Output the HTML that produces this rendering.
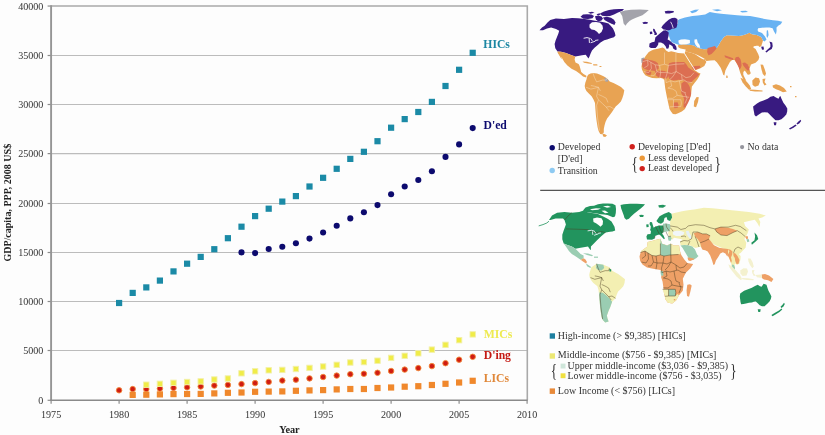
<!DOCTYPE html>
<html><head><meta charset="utf-8"><style>
html,body{margin:0;padding:0;background:#fdfdfd;width:825px;height:435px;overflow:hidden}
svg{display:block}
text{font-family:"Liberation Serif","Times New Roman",serif}
.ax{font-size:10.8px;fill:#333}
.axt{font-size:11px;font-weight:bold;fill:#222}
.axt2{font-size:10px;font-weight:bold;fill:#222}
.lab{font-size:12.5px;font-weight:bold}
.lt{font-size:10.5px;fill:#333}
.br{font-size:19px;fill:#333}
</style></head><body>
<svg width="825" height="435" viewBox="0 0 825 435">
<rect width="825" height="435" fill="#fdfdfd"/>
<line x1="51" y1="350.5" x2="527.3" y2="350.5" stroke="#bcbcbc" stroke-width="1.15"/>
<line x1="51" y1="301.5" x2="527.3" y2="301.5" stroke="#bcbcbc" stroke-width="1.15"/>
<line x1="51" y1="252.5" x2="527.3" y2="252.5" stroke="#bcbcbc" stroke-width="1.15"/>
<line x1="51" y1="203.5" x2="527.3" y2="203.5" stroke="#bcbcbc" stroke-width="1.15"/>
<line x1="51" y1="153.6" x2="527.3" y2="153.6" stroke="#bcbcbc" stroke-width="1.15"/>
<line x1="51" y1="104.5" x2="527.3" y2="104.5" stroke="#bcbcbc" stroke-width="1.15"/>
<line x1="51" y1="55.5" x2="527.3" y2="55.5" stroke="#bcbcbc" stroke-width="1.15"/>
<polyline points="51,6.04 527.3,6.04 527.3,400.3" fill="none" stroke="#a9a9a9" stroke-width="1.6"/>
<line x1="47.6" y1="400.3" x2="51" y2="400.3" stroke="#8c8c8c" stroke-width="1.2"/>
<line x1="47.6" y1="350.5" x2="51" y2="350.5" stroke="#8c8c8c" stroke-width="1.2"/>
<line x1="47.6" y1="301.5" x2="51" y2="301.5" stroke="#8c8c8c" stroke-width="1.2"/>
<line x1="47.6" y1="252.5" x2="51" y2="252.5" stroke="#8c8c8c" stroke-width="1.2"/>
<line x1="47.6" y1="203.5" x2="51" y2="203.5" stroke="#8c8c8c" stroke-width="1.2"/>
<line x1="47.6" y1="153.6" x2="51" y2="153.6" stroke="#8c8c8c" stroke-width="1.2"/>
<line x1="47.6" y1="104.5" x2="51" y2="104.5" stroke="#8c8c8c" stroke-width="1.2"/>
<line x1="47.6" y1="55.5" x2="51" y2="55.5" stroke="#8c8c8c" stroke-width="1.2"/>
<line x1="47.6" y1="6.04" x2="51" y2="6.04" stroke="#8c8c8c" stroke-width="1.2"/>
<line x1="51.1" y1="400" x2="51.1" y2="403.8" stroke="#8c8c8c" stroke-width="1.2"/>
<line x1="119.1" y1="400" x2="119.1" y2="403.8" stroke="#8c8c8c" stroke-width="1.2"/>
<line x1="187.1" y1="400" x2="187.1" y2="403.8" stroke="#8c8c8c" stroke-width="1.2"/>
<line x1="255.1" y1="400" x2="255.1" y2="403.8" stroke="#8c8c8c" stroke-width="1.2"/>
<line x1="323.1" y1="400" x2="323.1" y2="403.8" stroke="#8c8c8c" stroke-width="1.2"/>
<line x1="391.1" y1="400" x2="391.1" y2="403.8" stroke="#8c8c8c" stroke-width="1.2"/>
<line x1="459.1" y1="400" x2="459.1" y2="403.8" stroke="#8c8c8c" stroke-width="1.2"/>
<line x1="527.1" y1="400" x2="527.1" y2="403.8" stroke="#8c8c8c" stroke-width="1.2"/>
<line x1="51.1" y1="5.2" x2="51.1" y2="401" stroke="#959595" stroke-width="1.9"/>
<line x1="50.2" y1="400.3" x2="527.5" y2="400.3" stroke="#8a8a8a" stroke-width="1.6"/>
<text transform="translate(43.4,404) scale(0.935,1)" class="ax" text-anchor="end">0</text>
<text transform="translate(43.4,354.2) scale(0.935,1)" class="ax" text-anchor="end">5000</text>
<text transform="translate(43.4,305.2) scale(0.935,1)" class="ax" text-anchor="end">10000</text>
<text transform="translate(43.4,256.2) scale(0.935,1)" class="ax" text-anchor="end">15000</text>
<text transform="translate(43.4,207.2) scale(0.935,1)" class="ax" text-anchor="end">20000</text>
<text transform="translate(43.4,157.3) scale(0.935,1)" class="ax" text-anchor="end">25000</text>
<text transform="translate(43.4,108.2) scale(0.935,1)" class="ax" text-anchor="end">30000</text>
<text transform="translate(43.4,59.2) scale(0.935,1)" class="ax" text-anchor="end">35000</text>
<text transform="translate(43.4,9.74) scale(0.935,1)" class="ax" text-anchor="end">40000</text>
<text transform="translate(51.1,418.4) scale(0.935,1)" class="ax" text-anchor="middle">1975</text>
<text transform="translate(119.1,418.4) scale(0.935,1)" class="ax" text-anchor="middle">1980</text>
<text transform="translate(187.1,418.4) scale(0.935,1)" class="ax" text-anchor="middle">1985</text>
<text transform="translate(255.1,418.4) scale(0.935,1)" class="ax" text-anchor="middle">1990</text>
<text transform="translate(323.1,418.4) scale(0.935,1)" class="ax" text-anchor="middle">1995</text>
<text transform="translate(391.1,418.4) scale(0.935,1)" class="ax" text-anchor="middle">2000</text>
<text transform="translate(459.1,418.4) scale(0.935,1)" class="ax" text-anchor="middle">2005</text>
<text transform="translate(527.1,418.4) scale(0.935,1)" class="ax" text-anchor="middle">2010</text>
<text transform="translate(289.4,432.8) scale(0.935,1)" class="axt" text-anchor="middle">Year</text>
<text transform="translate(10.6,202.7) rotate(-90)" text-anchor="middle" class="axt2">GDP/capita, PPP, 2008 US$</text>
<rect x="116" y="299.9" width="6.2" height="6.2" fill="#1b8aa6"/>
<rect x="129.6" y="289.8" width="6.2" height="6.2" fill="#1b8aa6"/>
<rect x="143.2" y="284.3" width="6.2" height="6.2" fill="#1b8aa6"/>
<rect x="156.8" y="277.5" width="6.2" height="6.2" fill="#1b8aa6"/>
<rect x="170.4" y="268.3" width="6.2" height="6.2" fill="#1b8aa6"/>
<rect x="184" y="260.6" width="6.2" height="6.2" fill="#1b8aa6"/>
<rect x="197.6" y="253.8" width="6.2" height="6.2" fill="#1b8aa6"/>
<rect x="211.2" y="246.1" width="6.2" height="6.2" fill="#1b8aa6"/>
<rect x="224.8" y="235.1" width="6.2" height="6.2" fill="#1b8aa6"/>
<rect x="238.4" y="223.6" width="6.2" height="6.2" fill="#1b8aa6"/>
<rect x="252" y="213" width="6.2" height="6.2" fill="#1b8aa6"/>
<rect x="265.6" y="205.6" width="6.2" height="6.2" fill="#1b8aa6"/>
<rect x="279.2" y="198.5" width="6.2" height="6.2" fill="#1b8aa6"/>
<rect x="292.8" y="193" width="6.2" height="6.2" fill="#1b8aa6"/>
<rect x="306.4" y="183.4" width="6.2" height="6.2" fill="#1b8aa6"/>
<rect x="320" y="174.7" width="6.2" height="6.2" fill="#1b8aa6"/>
<rect x="333.6" y="165.7" width="6.2" height="6.2" fill="#1b8aa6"/>
<rect x="347.2" y="155.8" width="6.2" height="6.2" fill="#1b8aa6"/>
<rect x="360.8" y="148.7" width="6.2" height="6.2" fill="#1b8aa6"/>
<rect x="374.4" y="138.1" width="6.2" height="6.2" fill="#1b8aa6"/>
<rect x="388" y="124.6" width="6.2" height="6.2" fill="#1b8aa6"/>
<rect x="401.6" y="116" width="6.2" height="6.2" fill="#1b8aa6"/>
<rect x="415.2" y="108.9" width="6.2" height="6.2" fill="#1b8aa6"/>
<rect x="428.8" y="98.8" width="6.2" height="6.2" fill="#1b8aa6"/>
<rect x="442.4" y="82.9" width="6.2" height="6.2" fill="#1b8aa6"/>
<rect x="456" y="66.7" width="6.2" height="6.2" fill="#1b8aa6"/>
<rect x="469.6" y="49.7" width="6.2" height="6.2" fill="#1b8aa6"/>
<circle cx="241.5" cy="252.4" r="3.05" fill="#0c0a6e"/>
<circle cx="255.1" cy="253.1" r="3.05" fill="#0c0a6e"/>
<circle cx="268.7" cy="249" r="3.05" fill="#0c0a6e"/>
<circle cx="282.3" cy="246.7" r="3.05" fill="#0c0a6e"/>
<circle cx="295.9" cy="243.2" r="3.05" fill="#0c0a6e"/>
<circle cx="309.5" cy="238.6" r="3.05" fill="#0c0a6e"/>
<circle cx="323.1" cy="232.5" r="3.05" fill="#0c0a6e"/>
<circle cx="336.7" cy="225.8" r="3.05" fill="#0c0a6e"/>
<circle cx="350.3" cy="218.4" r="3.05" fill="#0c0a6e"/>
<circle cx="363.9" cy="212.3" r="3.05" fill="#0c0a6e"/>
<circle cx="377.5" cy="205.1" r="3.05" fill="#0c0a6e"/>
<circle cx="391.1" cy="194.2" r="3.05" fill="#0c0a6e"/>
<circle cx="404.7" cy="186.5" r="3.05" fill="#0c0a6e"/>
<circle cx="418.3" cy="180" r="3.05" fill="#0c0a6e"/>
<circle cx="431.9" cy="171.2" r="3.05" fill="#0c0a6e"/>
<circle cx="445.5" cy="156.9" r="3.05" fill="#0c0a6e"/>
<circle cx="459.1" cy="144.4" r="3.05" fill="#0c0a6e"/>
<circle cx="472.7" cy="128.1" r="3.05" fill="#0c0a6e"/>
<circle cx="119.1" cy="390.3" r="2.75" fill="#d01c12" stroke="#f28a3a" stroke-width="0.9"/>
<circle cx="132.7" cy="389.1" r="2.75" fill="#d01c12" stroke="#f28a3a" stroke-width="0.9"/>
<circle cx="146.3" cy="389.1" r="2.75" fill="#d01c12" stroke="#f28a3a" stroke-width="0.9"/>
<circle cx="159.9" cy="388.6" r="2.75" fill="#d01c12" stroke="#f28a3a" stroke-width="0.9"/>
<circle cx="173.5" cy="387.9" r="2.75" fill="#d01c12" stroke="#f28a3a" stroke-width="0.9"/>
<circle cx="187.1" cy="387.3" r="2.75" fill="#d01c12" stroke="#f28a3a" stroke-width="0.9"/>
<circle cx="200.7" cy="386.5" r="2.75" fill="#d01c12" stroke="#f28a3a" stroke-width="0.9"/>
<circle cx="214.3" cy="385.6" r="2.75" fill="#d01c12" stroke="#f28a3a" stroke-width="0.9"/>
<circle cx="227.9" cy="384.9" r="2.75" fill="#d01c12" stroke="#f28a3a" stroke-width="0.9"/>
<circle cx="241.5" cy="384.1" r="2.75" fill="#d01c12" stroke="#f28a3a" stroke-width="0.9"/>
<circle cx="255.1" cy="383.1" r="2.75" fill="#d01c12" stroke="#f28a3a" stroke-width="0.9"/>
<circle cx="268.7" cy="381.9" r="2.75" fill="#d01c12" stroke="#f28a3a" stroke-width="0.9"/>
<circle cx="282.3" cy="380.6" r="2.75" fill="#d01c12" stroke="#f28a3a" stroke-width="0.9"/>
<circle cx="295.9" cy="379.7" r="2.75" fill="#d01c12" stroke="#f28a3a" stroke-width="0.9"/>
<circle cx="309.5" cy="378.4" r="2.75" fill="#d01c12" stroke="#f28a3a" stroke-width="0.9"/>
<circle cx="323.1" cy="377" r="2.75" fill="#d01c12" stroke="#f28a3a" stroke-width="0.9"/>
<circle cx="336.7" cy="375.6" r="2.75" fill="#d01c12" stroke="#f28a3a" stroke-width="0.9"/>
<circle cx="350.3" cy="374.2" r="2.75" fill="#d01c12" stroke="#f28a3a" stroke-width="0.9"/>
<circle cx="363.9" cy="373.8" r="2.75" fill="#d01c12" stroke="#f28a3a" stroke-width="0.9"/>
<circle cx="377.5" cy="372.8" r="2.75" fill="#d01c12" stroke="#f28a3a" stroke-width="0.9"/>
<circle cx="391.1" cy="371" r="2.75" fill="#d01c12" stroke="#f28a3a" stroke-width="0.9"/>
<circle cx="404.7" cy="369.6" r="2.75" fill="#d01c12" stroke="#f28a3a" stroke-width="0.9"/>
<circle cx="418.3" cy="368.1" r="2.75" fill="#d01c12" stroke="#f28a3a" stroke-width="0.9"/>
<circle cx="431.9" cy="366.1" r="2.75" fill="#d01c12" stroke="#f28a3a" stroke-width="0.9"/>
<circle cx="445.5" cy="363.2" r="2.75" fill="#d01c12" stroke="#f28a3a" stroke-width="0.9"/>
<circle cx="459.1" cy="359.7" r="2.75" fill="#d01c12" stroke="#f28a3a" stroke-width="0.9"/>
<circle cx="472.7" cy="356.8" r="2.75" fill="#d01c12" stroke="#f28a3a" stroke-width="0.9"/>
<rect x="143.6" y="382" width="5.4" height="5.4" fill="#f0ec48" stroke="#f2f0a8" stroke-width="0.9"/>
<rect x="157.2" y="381.1" width="5.4" height="5.4" fill="#f0ec48" stroke="#f2f0a8" stroke-width="0.9"/>
<rect x="170.8" y="380.1" width="5.4" height="5.4" fill="#f0ec48" stroke="#f2f0a8" stroke-width="0.9"/>
<rect x="184.4" y="379.3" width="5.4" height="5.4" fill="#f0ec48" stroke="#f2f0a8" stroke-width="0.9"/>
<rect x="198" y="378.7" width="5.4" height="5.4" fill="#f0ec48" stroke="#f2f0a8" stroke-width="0.9"/>
<rect x="211.6" y="376.8" width="5.4" height="5.4" fill="#f0ec48" stroke="#f2f0a8" stroke-width="0.9"/>
<rect x="225.2" y="375.8" width="5.4" height="5.4" fill="#f0ec48" stroke="#f2f0a8" stroke-width="0.9"/>
<rect x="238.8" y="370.6" width="5.4" height="5.4" fill="#f0ec48" stroke="#f2f0a8" stroke-width="0.9"/>
<rect x="252.4" y="368.6" width="5.4" height="5.4" fill="#f0ec48" stroke="#f2f0a8" stroke-width="0.9"/>
<rect x="266" y="367.6" width="5.4" height="5.4" fill="#f0ec48" stroke="#f2f0a8" stroke-width="0.9"/>
<rect x="279.6" y="367.2" width="5.4" height="5.4" fill="#f0ec48" stroke="#f2f0a8" stroke-width="0.9"/>
<rect x="293.2" y="366.3" width="5.4" height="5.4" fill="#f0ec48" stroke="#f2f0a8" stroke-width="0.9"/>
<rect x="306.8" y="365.2" width="5.4" height="5.4" fill="#f0ec48" stroke="#f2f0a8" stroke-width="0.9"/>
<rect x="320.4" y="363.8" width="5.4" height="5.4" fill="#f0ec48" stroke="#f2f0a8" stroke-width="0.9"/>
<rect x="334" y="362.1" width="5.4" height="5.4" fill="#f0ec48" stroke="#f2f0a8" stroke-width="0.9"/>
<rect x="347.6" y="359.8" width="5.4" height="5.4" fill="#f0ec48" stroke="#f2f0a8" stroke-width="0.9"/>
<rect x="361.2" y="359.4" width="5.4" height="5.4" fill="#f0ec48" stroke="#f2f0a8" stroke-width="0.9"/>
<rect x="374.8" y="358" width="5.4" height="5.4" fill="#f0ec48" stroke="#f2f0a8" stroke-width="0.9"/>
<rect x="388.4" y="355.2" width="5.4" height="5.4" fill="#f0ec48" stroke="#f2f0a8" stroke-width="0.9"/>
<rect x="402" y="353.1" width="5.4" height="5.4" fill="#f0ec48" stroke="#f2f0a8" stroke-width="0.9"/>
<rect x="415.6" y="350.6" width="5.4" height="5.4" fill="#f0ec48" stroke="#f2f0a8" stroke-width="0.9"/>
<rect x="429.2" y="346.9" width="5.4" height="5.4" fill="#f0ec48" stroke="#f2f0a8" stroke-width="0.9"/>
<rect x="442.8" y="342.1" width="5.4" height="5.4" fill="#f0ec48" stroke="#f2f0a8" stroke-width="0.9"/>
<rect x="456.4" y="337.5" width="5.4" height="5.4" fill="#f0ec48" stroke="#f2f0a8" stroke-width="0.9"/>
<rect x="470" y="331.7" width="5.4" height="5.4" fill="#f0ec48" stroke="#f2f0a8" stroke-width="0.9"/>
<rect x="129.6" y="391.8" width="6.2" height="6.2" fill="#f0882c"/>
<rect x="143.2" y="391.6" width="6.2" height="6.2" fill="#f0882c"/>
<rect x="156.8" y="391.3" width="6.2" height="6.2" fill="#f0882c"/>
<rect x="170.4" y="391" width="6.2" height="6.2" fill="#f0882c"/>
<rect x="184" y="390.9" width="6.2" height="6.2" fill="#f0882c"/>
<rect x="197.6" y="390.8" width="6.2" height="6.2" fill="#f0882c"/>
<rect x="211.2" y="390.3" width="6.2" height="6.2" fill="#f0882c"/>
<rect x="224.8" y="389.7" width="6.2" height="6.2" fill="#f0882c"/>
<rect x="238.4" y="389.4" width="6.2" height="6.2" fill="#f0882c"/>
<rect x="252" y="388.7" width="6.2" height="6.2" fill="#f0882c"/>
<rect x="265.6" y="388.5" width="6.2" height="6.2" fill="#f0882c"/>
<rect x="279.2" y="388.3" width="6.2" height="6.2" fill="#f0882c"/>
<rect x="292.8" y="387.7" width="6.2" height="6.2" fill="#f0882c"/>
<rect x="306.4" y="387.3" width="6.2" height="6.2" fill="#f0882c"/>
<rect x="320" y="387" width="6.2" height="6.2" fill="#f0882c"/>
<rect x="333.6" y="386.3" width="6.2" height="6.2" fill="#f0882c"/>
<rect x="347.2" y="385.9" width="6.2" height="6.2" fill="#f0882c"/>
<rect x="360.8" y="385.9" width="6.2" height="6.2" fill="#f0882c"/>
<rect x="374.4" y="384.9" width="6.2" height="6.2" fill="#f0882c"/>
<rect x="388" y="384.4" width="6.2" height="6.2" fill="#f0882c"/>
<rect x="401.6" y="383.6" width="6.2" height="6.2" fill="#f0882c"/>
<rect x="415.2" y="383.1" width="6.2" height="6.2" fill="#f0882c"/>
<rect x="428.8" y="381.9" width="6.2" height="6.2" fill="#f0882c"/>
<rect x="442.4" y="380.7" width="6.2" height="6.2" fill="#f0882c"/>
<rect x="456" y="379.4" width="6.2" height="6.2" fill="#f0882c"/>
<rect x="469.6" y="377.7" width="6.2" height="6.2" fill="#f0882c"/>
<text transform="translate(483.3,48.3) scale(0.935,1)" class="lab" fill="#1b86a2">HICs</text>
<text transform="translate(483.5,128.5) scale(0.935,1)" class="lab" fill="#0c0a6e">D'ed</text>
<text transform="translate(483.7,338) scale(0.935,1)" class="lab" fill="#eeea50">MICs</text>
<text transform="translate(483.7,358.6) scale(0.935,1)" class="lab" fill="#c41a14">D'ing</text>
<text transform="translate(483.7,381.6) scale(0.935,1)" class="lab" fill="#e0883a">LICs</text>
<g><polygon points="539.5,30.3 542.0,27.5 544.7,25.8 547.5,22.5 550.3,20.1 555.9,18.5 564.0,19.0 572.0,18.0 578.0,18.2 583.0,18.8 589.8,19.8 595.0,20.8 600.0,21.6 605.0,22.6 608.5,23.6 610.7,25.8 613.0,28.5 614.7,32.2 615.5,35.5 613.9,37.2 610.5,38.3 607.0,39.5 604.2,40.3 600.5,42.5 597.8,45.1 594.5,47.8 592.0,50.5 590.6,53.5 589.5,56.5 588.4,58.6 587.0,56.5 585.7,54.8 582.0,55.2 578.0,56.0 575.3,56.4 571.0,55.0 566.0,53.0 561.0,51.8 557.5,51.5 555.3,48.3 554.6,44.0 555.6,40.5 556.9,37.3 558.3,33.8 559.2,30.8 556.0,29.0 551.1,27.6 547.0,28.6 543.0,30.3" fill="#381a80"/>
<polygon points="589.5,24.5 592.0,22.2 596.0,22.0 600.0,22.8 602.5,25.5 603.0,28.5 601.5,32.0 599.0,34.0 597.0,31.8 594.5,30.0 591.5,29.5 589.5,27.5" fill="#fdfdfd"/>
<polygon points="580.5,16.8 583.0,14.6 587.0,14.2 591.5,14.6 594.0,16.0 592.5,18.3 588.0,19.0 583.5,18.8" fill="#381a80"/>
<polygon points="595.0,16.2 598.5,15.6 601.5,16.5 603.0,18.5 601.5,20.6 598.5,21.4 596.0,19.8" fill="#381a80"/>
<polygon points="603.0,17.5 607.0,16.8 611.0,17.8 614.0,19.8 615.5,22.5 614.5,25.0 611.0,23.5 607.5,21.8 604.5,20.0" fill="#381a80"/>
<polygon points="600.0,13.5 604.0,11.5 609.0,10.0 614.0,9.3 619.0,9.0 624.0,9.1 622.5,10.8 618.0,12.5 614.0,14.5 610.0,16.0 606.0,16.3 602.0,15.8" fill="#381a80"/>
<polygon points="596.5,14.2 599.5,13.3 600.8,14.6 598.0,15.4" fill="#381a80"/>
<polygon points="588.0,12.6 592.0,11.8 594.5,12.8 590.5,13.8" fill="#381a80"/>
<polygon points="619.8,12.1 625.0,10.6 631.1,9.8 640.0,9.6 648.8,9.9 646.0,12.5 642.4,15.3 638.5,16.8 635.9,17.7 632.0,19.5 629.5,20.9 627.0,23.5 625.5,25.8 623.6,23.5 623.0,20.0 622.2,16.1" fill="#a3a3ab"/>
<polygon points="557.5,51.5 561.0,51.8 566.0,53.0 571.0,55.0 575.3,56.4 574.6,59.5 575.5,62.6 578.6,64.1 579.6,66.0 580.3,68.6 581.2,72.0 583.5,74.0 586.4,75.8 586.2,77.6 583.0,76.4 579.5,73.5 576.0,71.0 571.5,68.8 567.4,65.6 564.3,62.0 562.0,58.0 559.5,55.0 557.8,53.0" fill="#e8a353"/>
<polygon points="557.5,51.6 559.2,53.2 561.2,57.0 562.2,59.2 560.8,58.0 559.0,55.0" fill="#e8a353"/>
<polygon points="582.5,61.6 587.0,61.7 591.5,63.1 592.0,64.0 588.0,63.4 584.0,62.8" fill="#e8a353"/>
<polygon points="593.0,64.3 597.2,64.3 597.5,65.6 593.4,65.6" fill="#e8a353"/>
<polygon points="599.5,66.0 601.5,66.0 601.3,67.0 599.5,66.9" fill="#e8a353"/>
<polygon points="588.1,74.7 590.5,73.4 593.3,72.9 597.0,73.4 600.2,74.7 603.0,76.0 605.3,77.2 608.0,79.4 609.7,81.6 613.5,83.0 617.4,85.0 621.0,87.0 624.3,90.2 623.5,94.5 622.3,98.2 620.9,101.4 618.5,104.0 615.7,106.6 613.8,109.2 612.2,111.7 609.8,115.0 607.1,118.6 605.5,122.0 604.5,125.5 603.8,129.0 603.8,132.4 602.0,134.2 600.2,134.1 598.6,131.0 597.6,127.2 596.6,121.0 595.9,115.2 595.4,109.0 595.0,103.1 593.5,99.5 591.6,96.2 588.8,93.5 586.4,91.0 585.2,88.5 584.7,85.9 585.3,82.8 586.4,79.8 587.0,77.0" fill="#e8a353"/>
<polygon points="602.3,133.5 605.0,134.3 607.0,135.6 605.2,137.0 603.2,136.4" fill="#e8a353"/>
<polygon points="604.3,78.0 606.5,78.3 608.6,80.2 607.5,81.8 605.2,81.6" fill="#a3a3ab"/>
<polygon points="648.8,52.1 651.5,50.5 654.0,49.5 658.0,48.8 662.6,47.6 664.5,48.5 666.0,50.5 668.5,52.0 671.2,51.3 674.5,52.0 678.1,52.9 681.5,53.2 684.6,53.6 687.5,58.3 690.0,62.5 692.5,66.5 695.0,70.2 698.0,72.5 700.5,73.6 699.0,76.8 697.1,79.7 694.5,83.0 691.9,86.6 691.4,91.0 691.0,95.2 689.0,99.5 686.7,103.8 685.8,106.5 685.0,109.0 681.8,111.5 678.1,113.3 675.5,114.3 672.9,114.1 671.0,111.5 669.5,109.0 668.2,103.0 666.9,96.9 666.0,92.5 665.2,88.3 664.7,84.0 664.3,79.7 662.5,78.6 660.9,77.9 656.5,78.2 652.2,77.9 648.5,76.8 645.3,75.3 643.3,72.5 641.9,69.3 641.5,66.5 641.9,64.1 642.7,61.5 643.6,59.0 646.0,55.5" fill="#e8a353"/>
<polygon points="641.4,58.2 643.8,57.6 644.8,59.5 643.2,62.8 641.6,63.3 641.3,60.5" fill="#a3a3ab"/>
<polygon points="678.4,44.8 683.0,44.3 689.8,44.8 694.0,45.5 697.0,47.5 700.2,48.6 704.0,49.2 708.4,49.0 712.5,48.5 716.7,47.9 719.0,44.5 720.8,41.2 724.0,37.1 726.9,35.2 732.0,35.5 738.9,36.0 743.0,35.2 747.4,33.7 749.2,32.8 752.0,34.2 756.6,35.1 761.2,37.0 763.0,40.6 762.1,43.4 761.2,46.2 759.3,47.1 758.4,45.7 756.6,45.7 753.8,46.2 753.3,47.5 755.6,48.9 757.0,51.7 758.4,54.4 759.3,57.2 758.4,60.0 755.6,62.7 751.0,64.6 749.3,68.9 750.0,71.0 750.8,73.3 749.5,74.5 747.8,74.8 746.2,72.6 744.8,70.4 743.3,71.9 743.3,74.8 744.6,77.5 746.3,80.8 744.6,80.7 743.3,79.3 741.5,76.0 740.4,73.3 739.5,70.4 738.9,67.4 737.4,64.4 735.5,61.5 734.4,59.9 732.1,59.9 729.9,62.1 727.7,65.9 726.5,68.2 725.4,70.4 724.3,75.6 723.2,74.8 722.2,71.5 720.8,68.0 718.8,65.0 716.8,62.2 714.6,60.3 710.5,60.4 706.4,60.9 704.5,58.8 701.0,56.8 697.5,55.0 695.5,54.2 692.0,53.0 688.0,52.0 685.3,51.2 685.7,49.6 683.0,49.0 680.5,48.4 678.6,47.6 678.0,46.0" fill="#e8a353"/>
<polygon points="685.3,51.2 688.0,52.0 692.0,53.0 695.5,54.4 698.0,56.3 701.0,58.3 703.6,59.6 704.6,59.0 706.4,61.9 705.3,64.0 704.3,66.0 700.0,68.5 695.0,70.2 692.0,66.0 689.0,61.0 686.5,56.5 684.6,53.6" fill="#e8a353"/>
<polygon points="666.8,31.8 668.6,29.5 672.0,28.8 674.5,28.0 676.2,25.8 678.0,23.0 677.6,20.6 679.4,19.3 685.0,17.5 692.3,16.1 698.0,15.4 705.2,14.5 709.8,12.1 715.0,13.0 721.1,13.7 729.0,14.6 737.2,15.3 743.5,15.8 750.1,16.1 758.0,17.6 766.2,19.3 773.0,20.2 778.0,20.8 782.3,21.7 781.5,23.0 780.7,24.2 778.5,25.5 776.5,27.4 776.6,31.0 775.9,34.6 774.0,31.5 772.6,28.2 769.5,27.4 766.2,27.4 762.0,27.8 758.1,28.2 757.6,30.0 758.1,31.4 762.0,33.0 765.0,36.5 766.5,39.5 764.5,41.5 763.0,40.6 761.2,37.0 756.6,35.1 752.0,34.2 749.2,32.8 747.4,33.7 743.0,35.2 738.9,36.0 732.0,35.5 726.9,35.2 724.0,37.1 720.8,41.2 719.0,44.5 716.7,47.9 712.5,48.5 708.4,49.0 704.0,49.2 700.2,48.6 697.0,47.5 694.0,45.5 689.8,44.8 683.0,44.3 678.4,44.8 675.0,43.5 671.4,42.0 669.8,38.6 669.0,36.0 668.0,33.5" fill="#68b2f2"/>
<polygon points="678.4,40.6 681.0,39.6 685.0,39.2 689.8,40.0 690.0,42.5 689.5,43.6 686.0,44.3 681.0,44.4 678.8,43.5" fill="#fdfdfd"/>
<polygon points="694.5,39.5 697.0,39.3 697.6,42.3 699.6,45.0 700.2,48.0 697.6,47.3 695.6,45.0 694.4,42.0" fill="#fdfdfd"/>
<polygon points="690.0,11.5 695.0,9.8 699.0,9.5 696.0,12.0 692.0,13.2" fill="#68b2f2"/>
<polygon points="712.0,9.8 718.0,9.2 722.0,10.3 717.0,11.3" fill="#68b2f2"/>
<polygon points="740.0,11.0 746.0,10.8 748.0,12.0 742.0,12.5" fill="#68b2f2"/>
<polygon points="766.8,30.5 768.0,30.2 768.6,35.0 767.3,38.0 766.5,36.0" fill="#68b2f2"/>
<polygon points="661.3,27.5 663.0,25.0 666.0,22.0 669.0,19.5 672.0,18.0 675.0,17.8 677.4,19.0 677.6,22.0 677.2,25.0 676.5,27.5 674.5,28.5 672.0,28.8 670.0,30.0 667.5,30.5 665.5,29.8 663.5,29.5" fill="#381a80"/>
<polygon points="653.0,28.8 654.5,29.0 655.5,31.2 657.0,33.5 656.5,35.0 654.3,35.0 654.5,33.3 653.3,31.3" fill="#381a80"/>
<polygon points="649.8,31.8 652.0,31.4 652.5,33.8 650.0,34.3" fill="#381a80"/>
<polygon points="655.3,37.5 658.0,35.0 661.0,32.5 663.5,30.5 666.0,30.2 668.7,32.6 668.5,36.0 667.6,39.5 669.5,40.5 671.0,41.8 673.0,43.5 674.5,44.0 676.2,46.5 676.8,49.5 675.3,50.0 673.2,48.5 672.5,46.2 670.3,44.8 668.9,44.5 669.2,46.0 668.4,48.6 666.6,48.7 665.6,46.2 663.5,43.8 661.0,42.6 658.4,42.6 658.2,44.5 657.0,46.5 655.5,48.1 651.0,48.1 649.2,47.0 649.5,43.5 652.0,42.2 654.5,41.8 655.0,39.5" fill="#381a80"/>
<polygon points="664.7,11.3 668.0,10.7 673.9,11.0 673.5,12.5 669.5,13.6 665.5,13.4" fill="#381a80"/>
<polygon points="642.3,22.6 645.0,21.7 648.0,22.3 647.3,23.8 643.5,24.0" fill="#381a80"/>
<polygon points="769.4,41.6 772.2,42.5 772.7,46.2 771.7,48.9 768.5,50.8 766.7,52.6 765.3,51.7 767.6,49.4 770.4,47.1 770.4,44.3" fill="#381a80"/>
<polygon points="761.2,46.8 763.5,46.6 764.0,49.6 762.0,49.8" fill="#381a80"/>
<polygon points="740.4,77.8 743.5,79.0 746.8,81.8 749.8,85.5 751.2,89.0 749.0,89.8 745.8,86.5 742.6,82.5" fill="#e8a353"/>
<polygon points="752.3,80.5 755.5,77.6 759.0,78.2 760.0,81.5 758.5,85.5 755.0,86.8 752.6,85.0" fill="#e8a353"/>
<polygon points="749.5,89.6 755.0,89.8 762.5,90.6 762.5,91.6 755.0,91.5 749.8,90.8" fill="#e8a353"/>
<polygon points="760.5,64.5 763.0,64.8 764.8,69.5 766.0,73.5 765.0,76.2 762.8,74.0 761.5,69.5" fill="#e8a353"/>
<polygon points="762.5,79.0 765.5,78.5 764.5,82.0 766.5,84.5 764.5,85.5 762.8,82.5" fill="#e8a353"/>
<polygon points="772.5,85.5 776.0,84.2 780.0,85.5 784.0,88.0 786.8,91.5 783.0,92.3 779.5,90.5 776.0,89.3 773.0,87.5" fill="#e8a353"/>
<polygon points="726.2,75.6 727.6,75.8 727.6,78.0 726.3,78.0" fill="#e8a353"/>
<polygon points="696.6,96.9 698.8,97.2 698.0,102.0 696.0,107.2 693.8,106.4 694.2,101.0" fill="#e8a353"/>
<polygon points="642.8,59.1 647.0,59.5 652.4,60.5 655.5,61.5 657.9,63.3 658.6,66.0 658.6,68.8 655.2,70.9 651.5,70.5 648.3,70.2 644.1,68.8 642.3,66.5 642.1,64.7" fill="#dc6e52"/>
<polygon points="655.0,71.0 660.7,70.4 664.5,71.0 668.2,72.5 668.8,76.0 666.5,78.8 662.1,77.8 658.5,77.2 656.0,75.5" fill="#dc6e52"/>
<polygon points="645.5,71.0 649.0,70.8 651.5,72.5 650.5,75.0 647.5,74.8 645.7,73.2" fill="#dc6e52"/>
<polygon points="669.0,63.3 672.5,62.3 675.9,61.9 680.0,62.0 684.2,61.9 686.5,64.5 688.3,67.4 690.5,69.0 692.4,70.2 696.0,72.3 699.3,74.3 697.5,76.5 695.2,78.5 693.0,80.5 691.1,82.6 688.5,83.0 686.9,82.6 684.2,80.5 681.0,80.0 678.6,79.8 675.5,80.2 673.1,80.5 670.5,79.8 669.0,78.5 668.2,75.5 667.6,72.9 667.8,70.0 668.3,67.4" fill="#dc6e52"/>
<polygon points="681.4,83.5 684.2,81.2 686.9,82.6 688.5,84.5 689.7,86.7 690.5,90.0 691.1,93.6 690.5,96.5 689.7,99.2 688.0,103.0 685.5,107.4 683.5,107.4 683.6,103.0 684.2,99.2 683.0,96.0 681.4,93.6 680.8,90.0 681.4,86.7" fill="#dc6e52"/>
<polygon points="674.0,102.5 677.5,102.3 678.6,105.0 677.8,107.8 674.5,108.3 673.3,105.5" fill="#dc6e52"/>
<polygon points="691.5,66.8 695.5,66.0 699.8,65.8 700.5,67.6 696.8,69.2 694.6,70.3 692.7,68.9" fill="#dc6e52"/>
<polygon points="707.6,48.0 711.5,47.0 715.0,46.0 716.5,48.5 714.0,51.5 711.5,54.0 708.5,55.3 707.1,52.0" fill="#dc6e52"/>
<polygon points="724.5,55.2 729.0,56.8 733.0,58.3 733.2,60.0 729.5,59.0 725.0,57.2" fill="#dc6e52"/>
<polygon points="735.8,57.2 738.4,56.8 740.4,59.0 741.2,62.0 741.6,65.6 741.0,67.4 739.6,69.7 738.8,67.5 737.4,64.4 735.7,61.5 734.8,59.5" fill="#dc6e52"/>
<polygon points="742.3,62.9 745.0,62.4 747.4,64.3 749.2,67.5 749.3,70.2 747.5,70.5 745.4,68.2 743.4,65.8" fill="#dc6e52"/>
<polygon points="790.0,86.0 791.5,86.0 791.5,87.3 790.0,87.3" fill="#e8a353"/>
<polygon points="795.0,96.0 796.5,96.0 796.5,97.3 795.0,97.3" fill="#e8a353"/>
<polygon points="753.1,106.6 754.1,105.7 757.0,103.6 759.9,101.8 763.5,100.5 767.7,98.8 770.5,96.8 773.6,95.9 775.5,97.2 778.5,98.8 779.5,96.8 780.4,95.9 781.6,99.0 783.4,102.7 785.5,105.5 787.3,108.6 787.2,111.5 786.3,114.5 784.0,117.0 781.4,119.3 778.5,120.2 775.5,120.3 773.4,118.2 771.6,116.4 769.5,114.2 767.7,112.5 764.8,112.3 761.9,112.5 758.8,114.5 756.0,116.4 754.5,115.0 754.1,112.5 753.5,109.5" fill="#381a80"/>
<polygon points="773.6,122.3 776.5,122.3 776.0,125.2 774.2,125.2" fill="#381a80"/>
<polygon points="789.0,128.6 792.5,126.4 795.5,124.6 796.6,125.6 793.5,127.8 790.0,129.6" fill="#381a80"/>
<polygon points="796.5,123.6 798.5,121.5 800.6,119.8 801.2,121.0 799.2,123.5 797.2,124.6" fill="#381a80"/>
<polyline points="592.9,72.9 594.4,77.3 596.6,81.9 602.4,80.1 606.2,80.1 607.2,77.3" fill="none" stroke="#f8e2c4" stroke-width="0.5" stroke-opacity="0.9"/>
<polyline points="586.1,87.3 590.9,89.1 598.5,87.3 600.4,90.9" fill="none" stroke="#f8e2c4" stroke-width="0.5" stroke-opacity="0.9"/>
<polyline points="590.9,85.5 594.4,86.2 598.5,87.3" fill="none" stroke="#f8e2c4" stroke-width="0.5" stroke-opacity="0.9"/>
<polyline points="598.5,87.3 596.6,96.3 598.5,99.9 596.6,105.3" fill="none" stroke="#f8e2c4" stroke-width="0.5" stroke-opacity="0.9"/>
<polyline points="598.5,94.5 602.2,96.1 606.2,98.2 608.0,102.5" fill="none" stroke="#f8e2c4" stroke-width="0.5" stroke-opacity="0.9"/>
<polyline points="598.5,99.9 602.4,103.5 606.2,107.1 609.0,110.7" fill="none" stroke="#f8e2c4" stroke-width="0.5" stroke-opacity="0.9"/>
<polyline points="596.6,105.3 597.6,117.9 599.5,130.5" fill="none" stroke="#f8e2c4" stroke-width="0.5" stroke-opacity="0.9"/>
<polyline points="606.2,107.1 609.9,106.5 613.8,108.9" fill="none" stroke="#f8e2c4" stroke-width="0.5" stroke-opacity="0.9"/>
<polyline points="642.6,61.7 647.5,60.2 650.8,62.3 655.2,64.8 659.6,65.4 664.5,64.2" fill="none" stroke="#f8e2c4" stroke-width="0.5" stroke-opacity="0.9"/>
<polyline points="664.5,52.5 664.5,64.2" fill="none" stroke="#f8e2c4" stroke-width="0.5" stroke-opacity="0.9"/>
<polyline points="664.5,64.2 668.4,65.4 675.9,64.2" fill="none" stroke="#f8e2c4" stroke-width="0.5" stroke-opacity="0.9"/>
<polyline points="675.9,52.8 675.9,64.2 684.4,63.8" fill="none" stroke="#f8e2c4" stroke-width="0.5" stroke-opacity="0.9"/>
<polyline points="647.5,60.2 648.1,65.4 644.2,67.9" fill="none" stroke="#f8e2c4" stroke-width="0.5" stroke-opacity="0.9"/>
<polyline points="650.8,62.3 651.4,68.4 648.6,72.6 643.7,71.5" fill="none" stroke="#f8e2c4" stroke-width="0.5" stroke-opacity="0.9"/>
<polyline points="655.2,64.8 656.9,71.5 654.1,75.7 650.8,75.7" fill="none" stroke="#f8e2c4" stroke-width="0.5" stroke-opacity="0.9"/>
<polyline points="659.6,65.4 660.7,72.6 659.6,79.0" fill="none" stroke="#f8e2c4" stroke-width="0.5" stroke-opacity="0.9"/>
<polyline points="668.4,65.4 667.3,72.6 665.7,77.7 666.1,82.7" fill="none" stroke="#f8e2c4" stroke-width="0.5" stroke-opacity="0.9"/>
<polyline points="675.9,64.2 676.1,71.5 672.8,76.7 669.5,79.8" fill="none" stroke="#f8e2c4" stroke-width="0.5" stroke-opacity="0.9"/>
<polyline points="656.9,71.5 660.7,72.6 665.1,72.6 667.3,72.6 671.7,73.6 676.1,71.5" fill="none" stroke="#f8e2c4" stroke-width="0.5" stroke-opacity="0.9"/>
<polyline points="666.1,82.7 670.6,80.8 675.0,81.9 679.4,80.8 683.8,79.8" fill="none" stroke="#f8e2c4" stroke-width="0.5" stroke-opacity="0.9"/>
<polyline points="676.1,71.5 681.6,74.6 686.0,77.7 690.4,76.7 694.0,72.7" fill="none" stroke="#f8e2c4" stroke-width="0.5" stroke-opacity="0.9"/>
<polyline points="683.8,79.8 687.1,81.9 692.4,82.7" fill="none" stroke="#f8e2c4" stroke-width="0.5" stroke-opacity="0.9"/>
<polyline points="679.4,80.8 680.5,87.0 681.6,91.2 686.0,93.0" fill="none" stroke="#f8e2c4" stroke-width="0.5" stroke-opacity="0.9"/>
<polyline points="667.8,88.1 672.8,89.1 676.1,91.2 677.2,95.3 672.8,98.4 667.8,98.2" fill="none" stroke="#f8e2c4" stroke-width="0.5" stroke-opacity="0.9"/>
<polyline points="677.2,95.3 682.7,96.3 689.1,97.3" fill="none" stroke="#f8e2c4" stroke-width="0.5" stroke-opacity="0.9"/>
<polyline points="684.9,93.2 687.1,98.4 684.9,103.5" fill="none" stroke="#f8e2c4" stroke-width="0.5" stroke-opacity="0.9"/>
<polyline points="666.9,99.7 680.8,99.7 681.4,103.0 680.8,106.6 673.5,106.6 673.5,99.7" fill="none" stroke="#f8e2c4" stroke-width="0.5" stroke-opacity="0.9"/>
<polyline points="669.5,106.9 673.5,106.6" fill="none" stroke="#f8e2c4" stroke-width="0.5" stroke-opacity="0.9"/>
<polyline points="681.6,74.6 682.2,79.8" fill="none" stroke="#f8e2c4" stroke-width="0.5" stroke-opacity="0.9"/>
<polyline points="670.6,80.8 671.7,86.0 667.8,88.1" fill="none" stroke="#f8e2c4" stroke-width="0.5" stroke-opacity="0.9"/>
<polyline points="584.0,38.2 587.0,37.6 590.0,38.4" fill="none" stroke="#fdfdfd" stroke-width="0.9" stroke-linecap="round"/>
<polyline points="589.2,39.2 589.4,42.5" fill="none" stroke="#fdfdfd" stroke-width="0.9" stroke-linecap="round"/>
<polyline points="591.0,38.8 592.2,40.8" fill="none" stroke="#fdfdfd" stroke-width="0.9" stroke-linecap="round"/>
<polyline points="591.0,42.6 595.0,41.3" fill="none" stroke="#fdfdfd" stroke-width="0.9" stroke-linecap="round"/>
<polyline points="595.5,40.4 598.0,40.0" fill="none" stroke="#fdfdfd" stroke-width="0.9" stroke-linecap="round"/>
<polyline points="670.6,21.8 672,24.5 673.2,28" fill="none" stroke="#fdfdfd" stroke-width="0.8"/>
<polyline points="684.4,53.3 690,62.3 695.3,70.6" fill="none" stroke="#fdfdfd" stroke-width="0.9"/></g>
<g><polygon points="549.0,220.0 552.0,215.6 557.1,212.7 564.5,212.0 571.8,212.7 579.2,212.0 583.6,210.5 586.5,212.0 592.0,213.0 598.0,214.0 604.2,217.1 608.0,219.0 611.5,221.5 614.5,226.7 615.2,230.4 612.5,231.5 610.1,231.8 605.6,232.6 601.2,236.2 596.8,240.6 593.9,243.6 590.9,246.5 590.9,250.2 589.5,248.7 588.0,246.5 583.6,247.3 579.2,248.0 575.5,248.7 571.8,246.5 567.4,245.1 563.7,243.6 562.3,239.2 562.3,234.8 563.7,230.4 565.9,224.5 564.5,220.1 563.0,218.6 555.6,218.6 550.5,220.0" fill="#22945e"/>
<polygon points="593.1,218.5 597.0,217.6 601.5,218.3 603.0,221.0 602.7,224.5 600.5,226.7 598.5,225.0 596.0,223.2 593.5,222.0" fill="#ffffff"/>
<polygon points="583.0,210.5 585.5,207.5 590.0,206.0 594.0,205.8 598.0,204.2 603.0,203.5 608.0,203.4 612.5,203.8 615.5,205.3 616.0,209.0 615.8,213.0 615.0,216.5 613.0,217.3 610.5,216.2 607.5,215.0 604.0,214.5 600.5,214.3 597.0,213.5 593.0,213.0 589.0,212.3 585.5,212.0" fill="#22945e"/>
<polygon points="590.0,209.3 596.0,208.2 601.0,208.6 598.0,209.8 592.0,210.3" fill="#fdfdfd"/>
<polygon points="603.0,206.2 608.0,205.8 611.0,207.0 607.0,207.8" fill="#fdfdfd"/>
<polygon points="601.5,210.8 605.0,210.5 608.5,212.8 605.0,213.2" fill="#fdfdfd"/>
<polygon points="620.5,205.0 624.0,204.2 630.0,203.8 637.0,203.8 645.0,204.2 643.5,206.0 640.7,208.6 637.5,211.0 634.0,213.7 631.0,216.5 628.9,218.8 626.3,219.8 624.5,218.0 623.8,215.4 622.5,212.0 621.2,208.6" fill="#22945e"/>
<polygon points="639.2,215.1 642.0,214.7 644.0,215.6 643.0,216.9 640.0,216.9" fill="#22945e"/>
<polygon points="563.7,243.6 567.4,245.1 571.8,246.5 575.5,248.7 577.7,250.9 580.6,253.9 583.6,255.4 583.6,258.3 580.6,259.8 576.2,256.8 571.8,253.9 568.9,250.9 565.9,246.5" fill="#9acdb2"/>
<polygon points="580.6,259.8 583.6,258.3 585.5,259.5 587.0,262.0 586.0,263.5 583.0,261.5" fill="#eea066"/>
<polygon points="586.0,263.5 588.0,264.8 591.4,267.2 590.0,267.8 587.0,266.2" fill="#9acdb2"/>
<polygon points="583.0,253.2 588.0,253.6 593.0,255.3 592.0,256.2 587.0,255.0" fill="#9acdb2"/>
<polygon points="594.0,256.6 598.0,256.6 598.0,257.8 594.0,257.8" fill="#9acdb2"/>
<polygon points="591.4,267.2 596.6,263.8 600.0,264.2 603.4,264.7 609.5,267.2 612.1,270.7 618.1,274.1 621.5,276.5 625.0,279.3 624.5,283.0 623.3,286.2 620.8,289.0 618.1,291.4 616.6,295.0 615.5,298.3 612.1,301.7 610.3,306.9 608.5,311.0 606.9,315.5 607.5,318.5 608.6,321.6 605.2,322.4 602.8,320.0 601.7,317.2 600.6,311.0 600.0,305.2 599.5,300.0 599.1,294.8 598.5,290.0 597.4,286.2 593.1,282.8 591.0,280.0 589.7,277.6 589.2,275.0 589.7,272.4" fill="#f3efb2"/>
<polygon points="596.6,263.8 600.0,264.2 603.4,264.7 604.2,268.0 601.5,270.5 598.0,270.0 596.0,268.0" fill="#9acdb2"/>
<polygon points="599.1,292.5 603.0,292.8 606.5,295.5 609.5,298.5 612.1,301.7 610.3,306.9 608.5,311.0 606.9,315.5 607.5,318.5 608.6,321.6 605.2,322.4 602.8,320.0 601.7,317.2 600.6,311.0 600.0,305.2 599.5,300.0" fill="#9acdb2"/>
<polygon points="609.3,269.0 611.2,269.3 611.2,271.6 609.5,271.6" fill="#22945e"/>
<polygon points="647.0,246.7 644.0,249.0 641.0,251.2 639.5,256.4 640.2,260.9 642.5,264.6 647.0,267.6 654.4,269.1 660.4,269.9 661.9,272.8 661.1,277.3 662.6,281.8 663.4,287.8 664.1,293.7 665.6,299.7 667.9,302.7 672.3,303.4 676.1,300.4 679.0,295.2 682.8,290.7 683.5,284.8 682.8,278.8 685.8,272.8 690.2,268.4 693.2,263.9 687.3,263.1 684.3,259.4 681.3,254.9 679.8,250.5 679.1,245.5 674.0,245.4 670.6,243.7 667.2,245.4 662.1,243.7 660.4,238.8 655.3,239.9 651.1,241.2 647.7,242.0" fill="#eea066"/>
<polygon points="647.7,242.0 651.1,241.2 655.3,239.9 660.4,238.8 662.1,243.7 667.2,245.4 670.6,243.7 674.0,245.4 679.1,245.5 679.8,250.5 680.6,254.3 676.0,254.6 670.8,254.9 664.0,256.0 660.4,254.9 656.0,256.0 652.0,255.5 648.0,253.0 645.0,251.0 640.8,252.3 641.0,251.2 644.0,249.0 647.0,246.7" fill="#f3efb2"/>
<polygon points="660.4,238.9 662.1,243.7 667.2,245.4 670.6,243.7 670.8,254.9 664.0,256.0 660.4,254.9" fill="#9acdb2"/>
<polygon points="660.4,271.3 663.0,271.0 663.4,275.8 661.0,275.5" fill="#9acdb2"/>
<polygon points="662.6,289.3 668.6,289.3 668.6,296.0 665.2,296.5 664.1,293.7" fill="#f3efb2"/>
<polygon points="668.6,289.3 675.3,289.3 675.8,292.5 675.3,296.0 668.6,296.0" fill="#9acdb2"/>
<polygon points="664.6,296.0 668.6,296.0 675.3,296.0 677.6,294.0 679.0,295.2 676.1,300.4 672.3,303.4 667.9,302.7 665.6,299.7" fill="#f3efb2"/>
<polygon points="673.8,299.0 675.3,299.0 675.3,300.4 673.8,300.4" fill="#eea066"/>
<polygon points="687.3,284.8 690.0,284.3 691.7,285.5 690.5,291.0 689.0,296.7 687.0,296.0 686.6,290.5" fill="#eea066"/>
<polygon points="671.4,213.7 676.6,212.4 682.1,211.3 688.0,210.2 694.2,209.5 703.9,207.7 712.4,208.3 724.5,209.5 736.7,210.7 748.8,211.9 759.7,213.8 765.8,215.6 762.1,217.4 758.5,218.6 760.3,222.0 759.5,227.1 757.3,223.0 754.8,219.8 748.8,221.0 743.9,222.2 745.2,225.9 748.8,229.5 747.6,233.2 745.8,236.8 744.4,239.0 746.3,242.8 745.6,247.8 743.1,250.3 740.6,252.9 738.7,254.1 736.0,254.5 733.0,253.0 728.0,250.0 722.0,248.0 715.0,245.0 709.0,241.0 705.0,243.0 703.0,246.4 699.0,247.0 695.5,248.0 692.3,246.5 690.0,245.5 688.0,245.3 684.2,244.9 680.6,245.5 680.0,242.0 682.6,239.5 678.0,238.5 674.0,237.8 672.5,239.5 670.0,238.5 668.0,233.0 670.1,228.0 670.1,224.0 670.1,220.9 672.1,217.6" fill="#f3efb2"/>
<polygon points="672.8,231.5 677.0,230.8 681.0,231.0 684.3,232.3 683.5,234.8 680.0,236.0 676.0,236.0 673.0,234.5" fill="#f1f6f8"/>
<polygon points="686.0,231.0 688.5,230.8 689.5,233.0 691.2,236.0 691.5,238.8 689.5,238.5 688.0,236.5 686.5,234.0" fill="#e6f0f5"/>
<polygon points="680.6,245.5 684.2,244.9 688.0,245.3 692.3,246.5 695.0,249.5 697.1,254.6 698.5,256.0 696.5,258.0 693.9,259.4 690.0,260.5 687.5,256.2 685.0,252.0 682.6,248.1" fill="#9acdb2"/>
<polygon points="687.5,257.5 690.5,257.8 694.5,258.8 693.9,259.4 690.0,261.0 688.2,260.2" fill="#eea066"/>
<polygon points="693.8,233.3 697.6,232.0 702.6,233.9 706.4,233.9 710.2,235.8 709.0,239.0 714.0,245.3 719.1,247.8 724.1,248.4 727.9,249.1 729.5,251.0 728.5,253.5 727.0,256.0 725.4,253.5 722.9,252.2 720.3,253.5 718.4,256.7 715.9,260.5 714.7,264.2 713.4,264.9 712.1,260.5 710.2,255.4 707.7,251.6 705.2,250.3 702.6,249.7 701.4,247.8 700.1,242.8 697.6,239.0 695.1,236.4" fill="#eea066"/>
<polygon points="728.0,250.0 733.0,252.0 738.7,254.1 740.6,256.0 740.5,259.0 739.5,263.5 737.0,265.0 735.5,263.5 734.5,264.5 735.0,267.5 734.5,270.0 732.5,269.5 731.5,266.0 731.0,262.5 729.5,259.0 728.0,256.0" fill="#f3efb2"/>
<polygon points="727.9,249.1 730.5,249.8 732.5,251.6 732.2,254.5 731.0,257.5 731.8,261.0 731.0,263.0 729.7,259.5 728.5,256.5 727.0,256.0 728.5,253.5 729.5,251.0" fill="#eea066"/>
<polygon points="733.2,252.8 735.5,253.5 737.5,256.0 739.5,260.0 738.5,263.8 736.5,264.0 735.2,261.0 734.8,258.0 733.5,256.0" fill="#eea066"/>
<polygon points="732.2,264.5 734.0,265.0 735.0,268.0 734.5,270.0 732.8,269.5 731.8,266.5" fill="#9acdb2"/>
<polygon points="714.8,228.9 720.9,227.1 728.2,227.7 733.0,228.9 737.3,230.7 733.0,232.5 727.0,235.6 720.9,235.0 716.7,231.9" fill="#eea066"/>
<polygon points="745.0,236.4 747.6,236.0 748.2,238.6 746.5,239.2" fill="#eea066"/>
<polygon points="746.5,239.2 748.6,239.0 749.4,241.5 747.3,242.3" fill="#9acdb2"/>
<polygon points="754.5,232.6 757.0,235.2 758.3,239.0 755.7,241.5 751.9,244.7 751.3,242.8 754.5,240.2 755.1,236.4" fill="#22945e"/>
<polygon points="662.8,223.8 666.0,223.5 670.0,224.2 670.3,228.0 669.5,231.2 666.0,231.5 663.1,232.4 663.5,229.0 663.0,225.5" fill="#9acdb2"/>
<polygon points="667.7,236.4 670.5,236.2 671.7,238.5 670.5,241.0 668.5,240.5 668.0,238.5" fill="#9acdb2"/>
<polygon points="656.4,220.9 659.6,216.3 664.2,213.7 668.8,212.1 671.4,213.7 672.1,217.6 670.1,220.9 667.5,220.0 666.5,217.0 664.5,218.0 663.5,222.0 661.0,223.8 658.5,223.0" fill="#22945e"/>
<polygon points="650.0,222.0 652.0,222.3 652.8,225.0 653.9,228.5 652.0,229.5 650.5,229.0 650.8,226.5 649.5,224.0" fill="#22945e"/>
<polygon points="646.2,224.6 648.5,224.3 648.7,227.0 646.5,227.2" fill="#22945e"/>
<polygon points="649.9,229.5 652.0,228.5 655.6,226.5 659.0,225.6 663.0,225.5 663.5,229.0 663.1,232.4 662.0,233.5 663.5,235.5 664.8,238.5 664.0,239.3 661.5,236.5 659.5,234.5 657.5,235.0 655.0,236.0 654.5,238.5 652.0,239.8 647.0,239.6 646.4,236.5 647.5,234.3 650.5,234.0 651.0,231.5" fill="#22945e"/>
<polygon points="658.3,205.2 663.0,204.8 666.2,205.8 663.0,207.8 659.0,207.5" fill="#22945e"/>
<polygon points="728.4,264.3 732.0,266.5 736.0,270.5 740.0,275.0 742.1,279.2 740.5,279.9 736.5,276.5 732.5,271.5 729.5,267.5" fill="#f4f1cf"/>
<polygon points="740.2,270.5 743.5,268.2 747.0,268.6 748.0,271.5 746.5,275.5 742.5,276.0 740.5,273.5" fill="#f4f1cf"/>
<polygon points="742.0,278.0 748.0,278.2 753.8,279.2 753.5,280.3 747.0,280.0 742.3,279.3" fill="#f4f1cf"/>
<polygon points="748.0,258.4 750.5,258.6 752.5,262.0 753.8,266.5 752.3,268.2 750.0,265.0 748.5,261.5" fill="#f4f1cf"/>
<polygon points="751.9,270.2 754.5,270.0 753.5,273.0 755.8,275.5 753.8,276.0 752.2,273.0" fill="#f4f1cf"/>
<polygon points="761.6,274.5 765.0,274.0 769.0,275.5 773.4,279.0 771.5,281.9 768.0,280.2 764.0,279.5 761.8,278.0" fill="#eea066"/>
<polygon points="755.5,275.0 761.6,274.5 761.8,278.0 757.0,277.2" fill="#f4f1cf"/>
<polygon points="740.2,293.6 744.1,290.7 748.0,289.2 751.9,287.7 755.0,286.0 757.7,284.8 760.0,286.3 761.6,286.8 763.6,283.8 766.5,284.8 767.5,288.0 768.5,290.7 770.0,293.5 771.4,296.5 770.8,299.0 769.5,301.4 767.0,304.0 764.6,306.3 762.0,306.3 759.7,305.3 757.5,303.0 755.8,301.4 753.8,301.8 751.9,302.4 749.0,302.8 746.0,303.4 743.5,304.0 741.1,304.3 740.5,302.0 740.2,299.5 739.8,296.5" fill="#22945e"/>
<polygon points="757.7,309.2 760.7,309.2 760.2,312.1 758.3,312.1" fill="#22945e"/>
<polygon points="771.4,315.1 775.0,312.8 779.0,310.5 781.5,308.5 782.3,309.5 779.5,312.0 775.5,314.5 772.5,316.2" fill="#22945e"/>
<polygon points="780.5,306.8 782.5,304.8 784.0,302.8 784.8,304.0 783.5,306.5 781.5,308.0" fill="#22945e"/>
<polyline points="565.9,228.9 576.0,229.2 588.0,229.6 592.0,232.0 597.0,232.5 601.2,231.5 605.6,232.6" fill="none" stroke="#4a3a20" stroke-width="0.55" stroke-opacity="0.85"/>
<polyline points="571.8,212.7 568.0,216.0 564.5,220.1" fill="none" stroke="#4a3a20" stroke-width="0.55" stroke-opacity="0.85"/>
<polyline points="596.6,263.8 598.0,268.0 600.0,272.4 605.2,270.7 608.6,270.7 609.5,268.0" fill="none" stroke="#4a3a20" stroke-width="0.55" stroke-opacity="0.85"/>
<polyline points="590.5,277.6 594.8,279.3 601.7,277.6 603.4,281.0" fill="none" stroke="#4a3a20" stroke-width="0.55" stroke-opacity="0.85"/>
<polyline points="594.8,275.9 598.0,276.5 601.7,277.6" fill="none" stroke="#4a3a20" stroke-width="0.55" stroke-opacity="0.85"/>
<polyline points="601.7,277.6 600.0,286.2 601.7,289.7 600.0,294.8" fill="none" stroke="#4a3a20" stroke-width="0.55" stroke-opacity="0.85"/>
<polyline points="601.7,284.5 605.0,286.0 608.6,288.0 610.3,292.2" fill="none" stroke="#4a3a20" stroke-width="0.55" stroke-opacity="0.85"/>
<polyline points="601.7,289.7 605.2,293.1 608.6,296.6 611.2,300.0" fill="none" stroke="#4a3a20" stroke-width="0.55" stroke-opacity="0.85"/>
<polyline points="600.0,294.8 600.9,306.9 602.6,319.0" fill="none" stroke="#4a3a20" stroke-width="0.55" stroke-opacity="0.85"/>
<polyline points="608.6,296.6 612.0,296.0 615.5,298.3" fill="none" stroke="#4a3a20" stroke-width="0.55" stroke-opacity="0.85"/>
<polyline points="640.5,252.5 645.0,251.0 648.0,253.0 652.0,255.5 656.0,256.0 660.4,254.9" fill="none" stroke="#4a3a20" stroke-width="0.55" stroke-opacity="0.85"/>
<polyline points="660.4,243.5 660.4,254.9" fill="none" stroke="#4a3a20" stroke-width="0.55" stroke-opacity="0.85"/>
<polyline points="660.4,254.9 664.0,256.0 670.8,254.9" fill="none" stroke="#4a3a20" stroke-width="0.55" stroke-opacity="0.85"/>
<polyline points="670.8,243.8 670.8,254.9 678.5,254.5" fill="none" stroke="#4a3a20" stroke-width="0.55" stroke-opacity="0.85"/>
<polyline points="645.0,251.0 645.5,256.0 642.0,258.5" fill="none" stroke="#4a3a20" stroke-width="0.55" stroke-opacity="0.85"/>
<polyline points="648.0,253.0 648.5,259.0 646.0,263.0 641.5,262.0" fill="none" stroke="#4a3a20" stroke-width="0.55" stroke-opacity="0.85"/>
<polyline points="652.0,255.5 653.5,262.0 651.0,266.0 648.0,266.0" fill="none" stroke="#4a3a20" stroke-width="0.55" stroke-opacity="0.85"/>
<polyline points="656.0,256.0 657.0,263.0 656.0,269.2" fill="none" stroke="#4a3a20" stroke-width="0.55" stroke-opacity="0.85"/>
<polyline points="664.0,256.0 663.0,263.0 661.5,268.0 661.9,272.8" fill="none" stroke="#4a3a20" stroke-width="0.55" stroke-opacity="0.85"/>
<polyline points="670.8,254.9 671.0,262.0 668.0,267.0 665.0,270.0" fill="none" stroke="#4a3a20" stroke-width="0.55" stroke-opacity="0.85"/>
<polyline points="653.5,262.0 657.0,263.0 661.0,263.0 663.0,263.0 667.0,264.0 671.0,262.0" fill="none" stroke="#4a3a20" stroke-width="0.55" stroke-opacity="0.85"/>
<polyline points="661.9,272.8 666.0,271.0 670.0,272.0 674.0,271.0 678.0,270.0" fill="none" stroke="#4a3a20" stroke-width="0.55" stroke-opacity="0.85"/>
<polyline points="671.0,262.0 676.0,265.0 680.0,268.0 684.0,267.0 687.3,263.1" fill="none" stroke="#4a3a20" stroke-width="0.55" stroke-opacity="0.85"/>
<polyline points="678.0,270.0 681.0,272.0 685.8,272.8" fill="none" stroke="#4a3a20" stroke-width="0.55" stroke-opacity="0.85"/>
<polyline points="674.0,271.0 675.0,277.0 676.0,281.0 680.0,282.8" fill="none" stroke="#4a3a20" stroke-width="0.55" stroke-opacity="0.85"/>
<polyline points="663.4,278.0 668.0,279.0 671.0,281.0 672.0,285.0 668.0,288.0 663.4,287.8" fill="none" stroke="#4a3a20" stroke-width="0.55" stroke-opacity="0.85"/>
<polyline points="672.0,285.0 677.0,286.0 682.8,287.0" fill="none" stroke="#4a3a20" stroke-width="0.55" stroke-opacity="0.85"/>
<polyline points="679.0,283.0 681.0,288.0 679.0,293.0" fill="none" stroke="#4a3a20" stroke-width="0.55" stroke-opacity="0.85"/>
<polyline points="662.6,289.3 675.3,289.3 675.8,292.5 675.3,296.0 668.6,296.0 668.6,289.3" fill="none" stroke="#4a3a20" stroke-width="0.55" stroke-opacity="0.85"/>
<polyline points="665.0,296.3 668.6,296.0" fill="none" stroke="#4a3a20" stroke-width="0.55" stroke-opacity="0.85"/>
<polyline points="676.0,265.0 676.5,270.0" fill="none" stroke="#4a3a20" stroke-width="0.55" stroke-opacity="0.85"/>
<polyline points="666.0,271.0 667.0,276.0 663.4,278.0" fill="none" stroke="#4a3a20" stroke-width="0.55" stroke-opacity="0.85"/>
<polyline points="663.0,225.5 663.5,229.0 663.1,232.4" fill="none" stroke="#4a3a20" stroke-width="0.55" stroke-opacity="0.85"/>
<polyline points="655.6,226.5 657.0,229.5 659.5,234.5" fill="none" stroke="#4a3a20" stroke-width="0.55" stroke-opacity="0.85"/>
<polyline points="659.0,225.6 660.0,229.0 662.0,233.5" fill="none" stroke="#4a3a20" stroke-width="0.55" stroke-opacity="0.85"/>
<polyline points="654.5,238.5 655.0,236.0" fill="none" stroke="#4a3a20" stroke-width="0.55" stroke-opacity="0.85"/>
<polyline points="666.0,231.5 667.0,234.0 668.5,236.5 671.0,236.2" fill="none" stroke="#4a3a20" stroke-width="0.55" stroke-opacity="0.85"/>
<polyline points="670.3,228.0 672.5,230.0 673.0,231.5" fill="none" stroke="#4a3a20" stroke-width="0.55" stroke-opacity="0.85"/>
<polyline points="666.0,223.5 666.5,227.0 669.5,231.2" fill="none" stroke="#4a3a20" stroke-width="0.55" stroke-opacity="0.85"/>
<polyline points="670.0,225.9 677.3,227.1 680.9,229.5 685.8,228.3 688.2,225.9 695.5,224.7 703.9,225.3 710.0,227.7 714.8,228.9 720.9,227.1 728.2,227.1 735.5,225.3 740.3,226.5 746.4,230.7" fill="none" stroke="#4a3a20" stroke-width="0.55" stroke-opacity="0.85"/>
<polyline points="714.8,228.9 716.7,231.9 720.9,235.0 727.0,235.6 733.0,232.5 737.3,230.7" fill="none" stroke="#4a3a20" stroke-width="0.55" stroke-opacity="0.85"/>
<polyline points="691.5,238.8 693.0,232.0 697.6,232.0 702.6,233.9 706.4,233.9 710.2,235.8" fill="none" stroke="#4a3a20" stroke-width="0.55" stroke-opacity="0.85"/>
<polyline points="700.1,242.8 705.0,241.0 709.0,239.0" fill="none" stroke="#4a3a20" stroke-width="0.55" stroke-opacity="0.85"/>
<polyline points="680.0,242.0 684.0,240.5 688.0,241.0 691.5,238.8" fill="none" stroke="#4a3a20" stroke-width="0.55" stroke-opacity="0.85"/>
<polyline points="688.0,245.3 690.0,241.0" fill="none" stroke="#4a3a20" stroke-width="0.55" stroke-opacity="0.85"/>
<polyline points="695.1,236.4 697.0,241.0 699.0,247.0" fill="none" stroke="#4a3a20" stroke-width="0.55" stroke-opacity="0.85"/>
<polyline points="681.0,236.5 684.3,236.0 686.0,237.0" fill="none" stroke="#4a3a20" stroke-width="0.55" stroke-opacity="0.85"/>
<polyline points="737.3,230.7 741.0,233.0 745.0,236.4" fill="none" stroke="#4a3a20" stroke-width="0.55" stroke-opacity="0.85"/>
<polyline points="733.6,252.9 735.0,249.0 738.0,247.0 742.0,249.0" fill="none" stroke="#4a3a20" stroke-width="0.55" stroke-opacity="0.85"/>
<polyline points="588.0,230.8 591.5,230.3 594.0,231.0" fill="none" stroke="#e8f2f6" stroke-width="0.9" stroke-linecap="round"/>
<polyline points="592.5,231.8 592.8,234.5" fill="none" stroke="#e8f2f6" stroke-width="0.9" stroke-linecap="round"/>
<polyline points="594.5,231.5 595.8,233.2" fill="none" stroke="#e8f2f6" stroke-width="0.9" stroke-linecap="round"/>
<polyline points="594.5,235.2 598.0,234.0" fill="none" stroke="#e8f2f6" stroke-width="0.9" stroke-linecap="round"/>
<polyline points="598.5,233.3 600.5,233.0" fill="none" stroke="#e8f2f6" stroke-width="0.9" stroke-linecap="round"/>
<polyline points="538.7,225.9 543,224.6 546.8,223 549,221.2" fill="none" stroke="#22945e" stroke-width="0.8"/></g>
<circle cx="552.2" cy="147.7" r="2.7" fill="#0c0a6e"/>
<text transform="translate(557.8,150.3) scale(0.935,1)" class="lt">Developed</text>
<text transform="translate(557.8,162) scale(0.935,1)" class="lt">[D'ed]</text>
<circle cx="552.2" cy="170.5" r="2.7" fill="#8ecaf2"/>
<text transform="translate(557.8,173.7) scale(0.935,1)" class="lt">Transition</text>
<circle cx="632.2" cy="146.8" r="2.7" fill="#d0201c"/>
<text transform="translate(637.9,149.8) scale(0.935,1)" class="lt">Developing [D'ed]</text>
<circle cx="642.2" cy="158.3" r="2.7" fill="#ec9838"/>
<text transform="translate(648.1,161.2) scale(0.935,1)" class="lt">Less developed</text>
<circle cx="642.2" cy="168.6" r="2.7" fill="#d0201c"/>
<text transform="translate(648.1,171.4) scale(0.935,1)" class="lt">Least developed</text>
<circle cx="742.1" cy="147.1" r="2.1" fill="#94949c"/>
<text transform="translate(747.5,150.3) scale(0.935,1)" class="lt">No data</text>
<text transform="translate(631.5,169.8) scale(0.7,1)" class="br">{</text>
<text transform="translate(714.6,170.2) scale(0.7,1)" class="br">}</text>
<line x1="540.2" y1="190.3" x2="825" y2="190.3" stroke="#555" stroke-width="1.3"/>
<rect x="549.7" y="333.3" width="5.3" height="5.4" fill="#1d7fa0"/>
<text transform="translate(557.8,338.9) scale(0.953,1)" class="lt">High-income (&gt; $9,385) [HICs]</text>
<rect x="549.7" y="353.3" width="5.3" height="5.4" fill="#ece874"/>
<text transform="translate(557.8,358.3) scale(0.953,1)" class="lt">Middle-income ($756 - $9,385) [MICs]</text>
<rect x="560.6" y="363.6" width="4.9" height="4.9" fill="#cfe6da"/>
<text transform="translate(567.5,368.5) scale(0.953,1)" class="lt">Upper middle-income ($3,036 - $9,385)</text>
<rect x="560.6" y="373.3" width="4.9" height="4.9" fill="#f0e040"/>
<text transform="translate(567.5,378.7) scale(0.953,1)" class="lt">Lower middle-income ($756 - $3,035)</text>
<rect x="549.7" y="388.4" width="5.3" height="5.5" fill="#e88a3a"/>
<text transform="translate(557.8,393.8) scale(0.953,1)" class="lt">Low Income (&lt; $756) [LICs]</text>
<text transform="translate(550.7,377) scale(0.7,1)" class="br">{</text>
<text transform="translate(730.2,377) scale(0.7,1)" class="br">}</text>
</svg>
</body></html>
